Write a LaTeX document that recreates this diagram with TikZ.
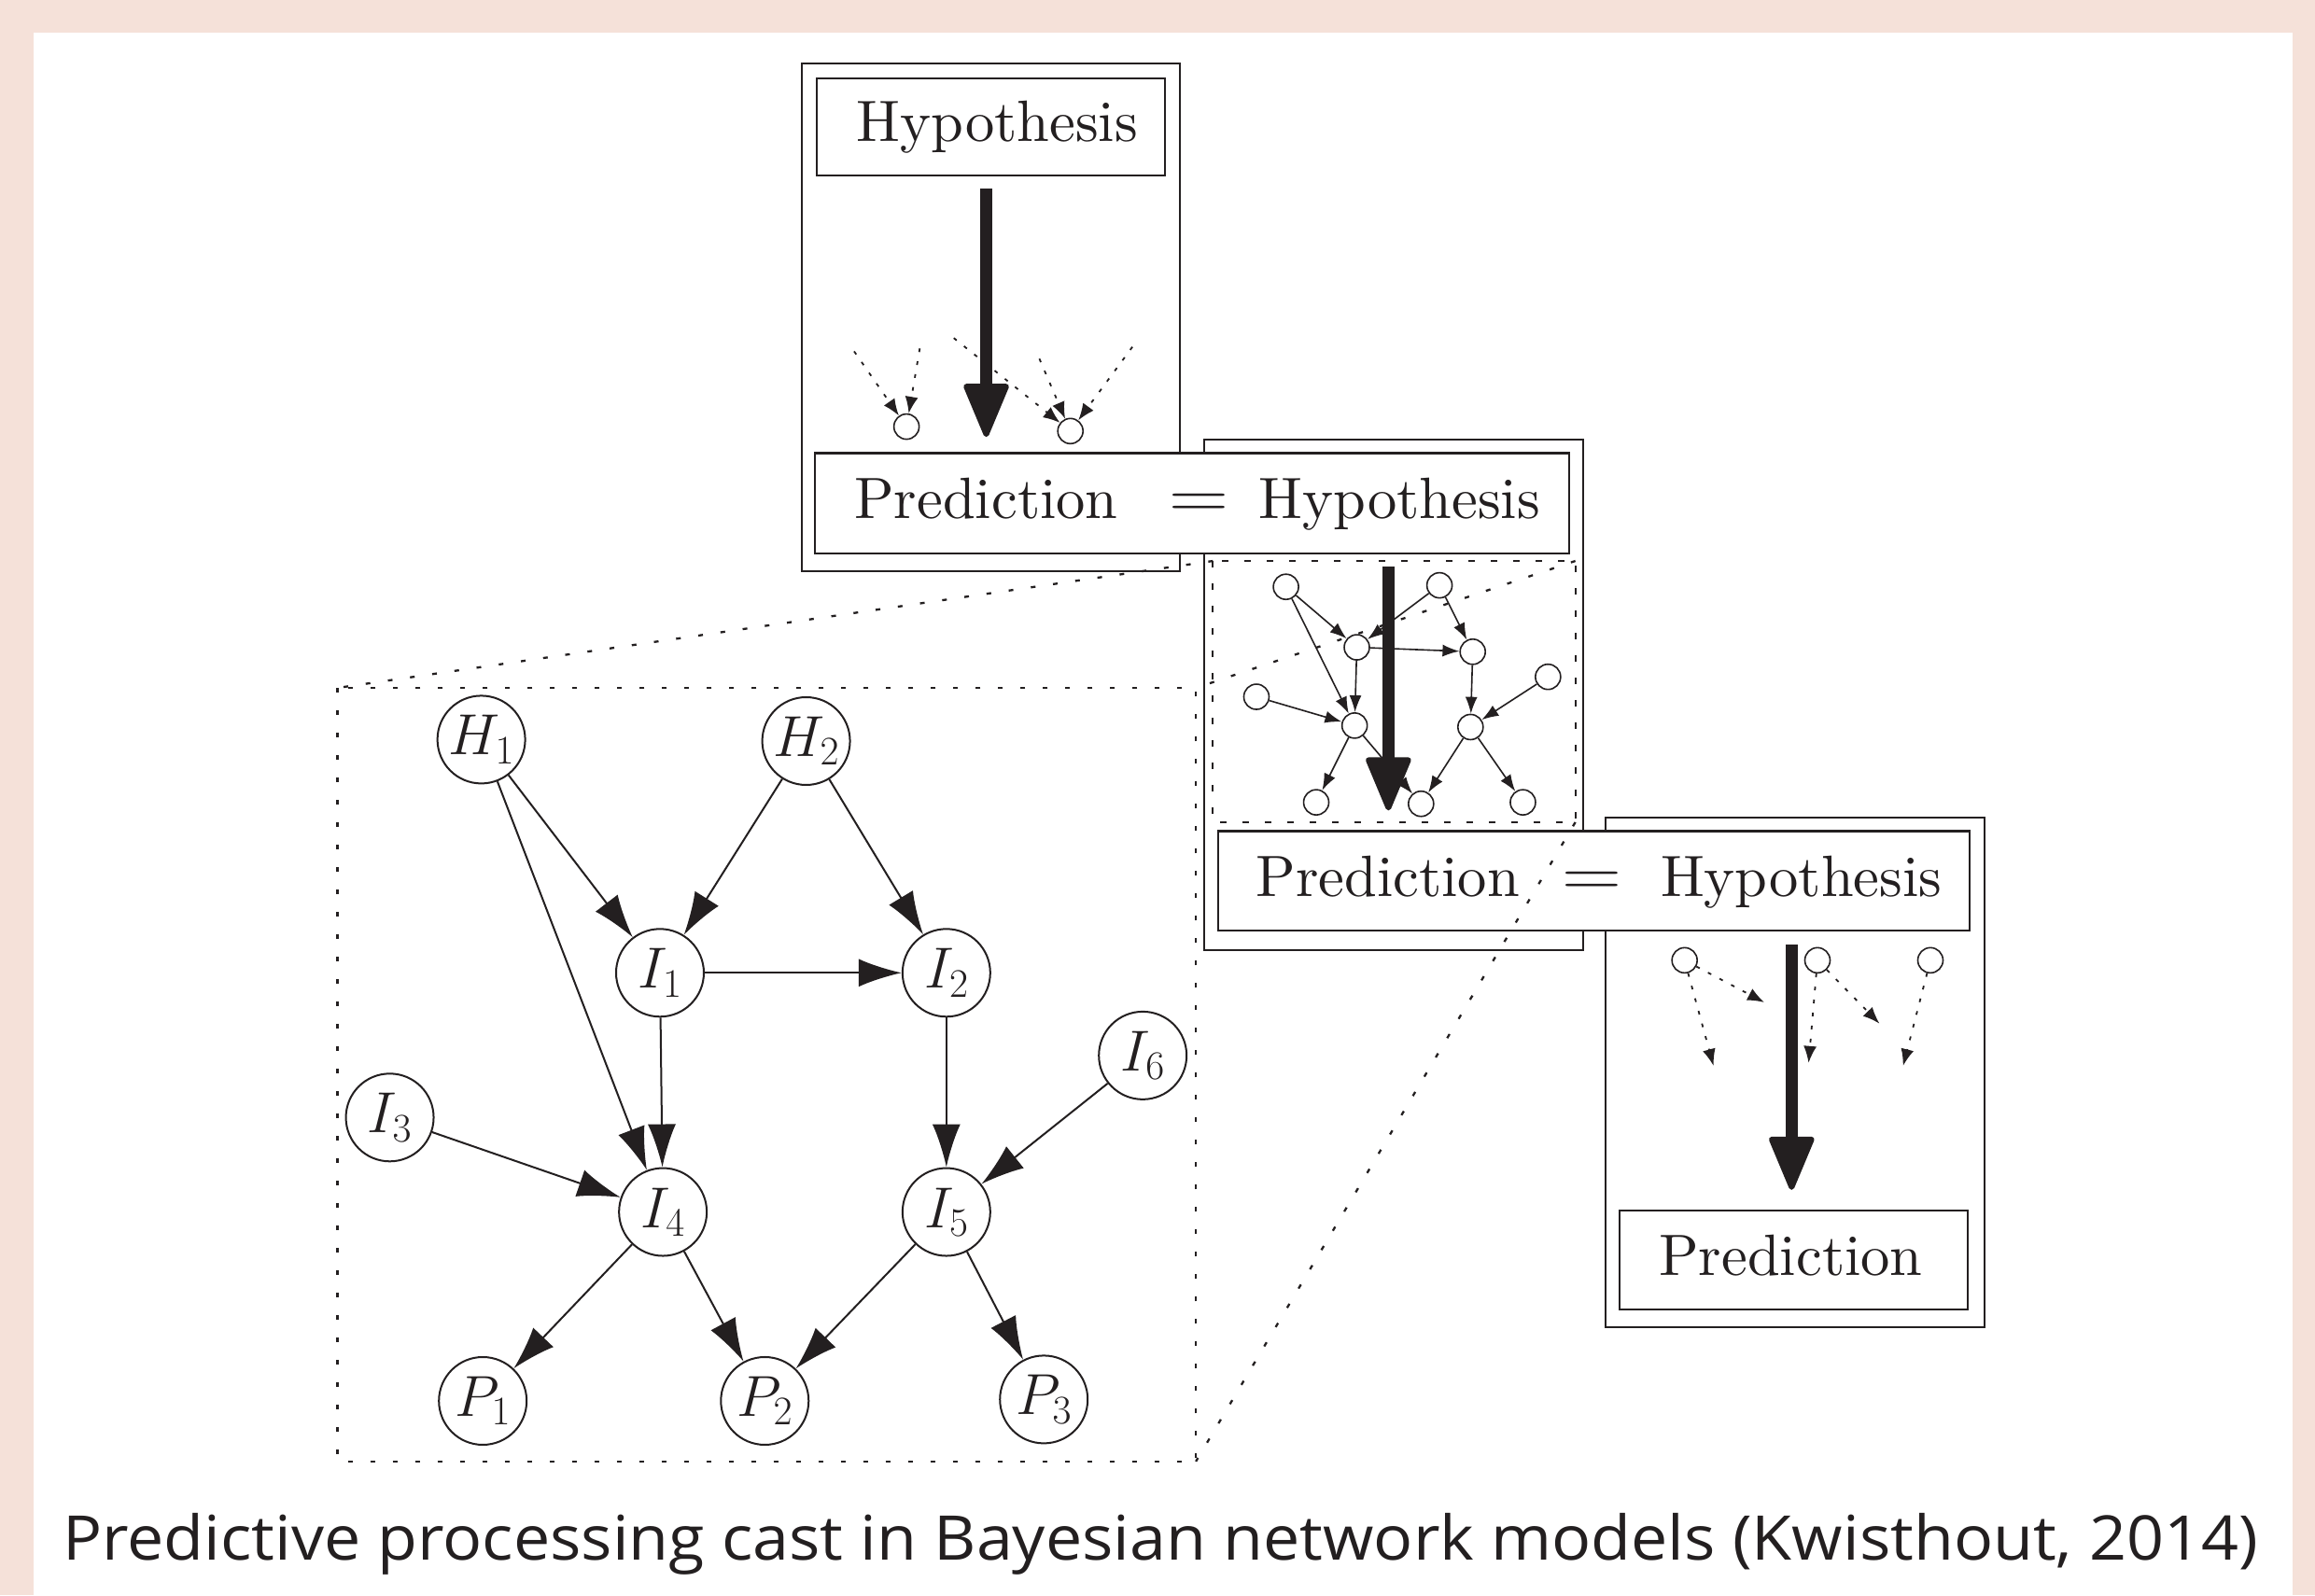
\RequirePackage{fix-cm}
\documentclass[tikz,border=0pt]{standalone}
\usepackage{fontspec}
\usepackage{graphicx}
\usetikzlibrary{arrows.meta}
\newfontfamily\lmten{lmroman10-regular}[Extension=.otf]
\newfontfamily\capfont{Open Sans}
\definecolor{bgpink}{RGB}{245,225,217}
\definecolor{ink}{RGB}{35,31,32}
\begin{document}
\begin{tikzpicture}[x=1.5816pt,y=-1.5816pt,
  every node/.style={text=ink},
  rbox/.style={draw=ink,line width=2.2pt,inner sep=0pt,outer sep=0pt,rectangle},
  wbox/.style={rbox,fill=white},
  bnode/.style={circle,draw=ink,line width=2pt,minimum size=94pt,inner sep=0pt,fill=white,font=\fontsize{62}{70}\selectfont},
  bedge/.style={draw=ink,line width=2pt,-{Latex[length=46pt,width=30pt]}},
  mnode/.style={circle,draw=ink,line width=1.6pt,minimum size=27pt,inner sep=0pt,fill=white},
  medge/.style={draw=ink,line width=1.6pt,-{Latex[length=18pt,width=13pt]}},
  darrow/.style={draw=ink,line width=1.8pt,dash pattern=on 4pt off 10pt,-{Latex[length=18pt,width=14pt]}},
  bigarrow/.style={draw=ink,line width=12.7pt,-{Triangle[length=62pt,width=50pt,round,line width=6pt]}},
  dotframe/.style={draw=ink,line width=2.3pt,dash pattern=on 5pt off 19pt},
  dashframe/.style={draw=ink,line width=1.8pt,dash pattern=on 7pt off 17pt},
  lbl/.style={anchor=base,inner sep=0pt,font=\fontsize{62.5}{75}\lmten},
  eqs/.style={anchor=base,inner sep=0pt,font=\fontsize{62.5}{75}\selectfont},
]
% background
\fill[bgpink] (0,0) rectangle (1568,1080.55);
\fill[white] (22.8,22.1) rectangle (1553,1080.55);
\path[use as bounding box] (0,0) rectangle (1568,1080.55);

% big network frame
\node[rbox,draw=none,minimum width=919.7pt,minimum height=828.8pt] (big) at (519.25,728) {};
\draw[dotframe] (big.north west) rectangle (big.south east);

% big network
\node[bnode] (H1) at (326,501) {$H_1$};
\node[bnode] (H2) at (546,502) {$H_2$};
\node[bnode] (I1) at (447,659) {$I_1$};
\node[bnode] (I2) at (641,659) {$I_2$};
\node[bnode] (I3) at (264,757) {$I_3$};
\node[bnode] (I6) at (774,715) {$I_6$};
\node[bnode] (I4) at (449,821) {$I_4$};
\node[bnode] (I5) at (641,821) {$I_5$};
\node[bnode] (P1) at (327,949) {$P_1$};
\node[bnode] (P2) at (518,949) {$P_2$};
\node[bnode] (P3) at (707,948) {$P_3$};
\foreach \a/\b in {H1/I1,H1/I4,H2/I1,H2/I2,I1/I2,I1/I4,I2/I5,I3/I4,I6/I5,I4/P1,I4/P2,I5/P2,I5/P3}
  \draw[bedge] (\a) -- (\b);

% outer boxes
\node[rbox,minimum width=404.9pt,minimum height=544.1pt] (outA) at (671,215) {};
\node[rbox,minimum width=406pt,minimum height=546.4pt] (outB) at (943.95,470.75) {};
\node[rbox,minimum width=405.7pt,minimum height=545.7pt] (outC) at (1215.75,726.5) {};

% hypothesis box (first) and prediction box (last)
\node[wbox,minimum width=373.3pt,minimum height=104.4pt] (hypA) at (671,86) {};
\node[lbl] (hypAt) at (675.5,95.5) {Hypothesis};
\node[wbox,minimum width=373.3pt,minimum height=106pt] (preC) at (1215,853.5) {};
\node[lbl] (preCt) at (1213,864) {Prediction};

% mini network frame
\node[rbox,draw=none,minimum width=388.3pt,minimum height=279.9pt] (mini) at (944.25,468.5) {};
\draw[dashframe] (mini.north west) rectangle (mini.south east);

% mini network
\node[mnode] (mH1) at (871,397.5) {};
\node[mnode] (mH2) at (975,396.5) {};
\node[mnode] (mI1) at (919,438.5) {};
\node[mnode] (mI2) at (997.5,441.5) {};
\node[mnode] (mI3) at (851,472) {};
\node[mnode] (mI6) at (1048.5,458.5) {};
\node[mnode] (mI4) at (917.5,491.5) {};
\node[mnode] (mI5) at (996,492.5) {};
\node[mnode] (mP1) at (891.5,543.5) {};
\node[mnode] (mP2) at (962.5,544.5) {};
\node[mnode] (mP3) at (1031.5,543.5) {};
\foreach \a/\b in {H1/I1,H1/I4,H2/I1,H2/I2,I1/I2,I1/I4,I2/I5,I3/I4,I6/I5,I4/P1,I4/P2,I5/P2,I5/P3}
  \draw[medge] (m\a) -- (m\b);

% prediction = hypothesis boxes
\node[wbox,minimum width=808.2pt,minimum height=107.5pt] (pehA) at (807.5,341) {};
\node[lbl] (pehAp) at (668,351) {Prediction};
\node[eqs] (pehAe) at (812,351) {\scalebox{1.42}[1.18]{$=$}};
\node[lbl] (pehAh) at (948,351) {Hypothesis};
\node[wbox,minimum width=805pt,minimum height=106.8pt] (pehB) at (1079.5,596.75) {};
\node[lbl] (pehBp) at (940,607) {Prediction};
\node[eqs] (pehBe) at (1078.5,607) {\scalebox{1.42}[1.18]{$=$}};
\node[lbl] (pehBh) at (1220,607) {Hypothesis};

% small circles and dotted arrows, first box
\node[mnode] (c1a) at (614,289) {};
\node[mnode] (c1b) at (725,292) {};
\coordinate (s1) at (578.5,238);
\coordinate (s2) at (623,236);
\coordinate (s3) at (646,229);
\coordinate (s4) at (704,243);
\coordinate (s5) at (767,235);
\draw[darrow] (s1) -- (c1a);
\draw[darrow] (s2) -- (c1a);
\draw[darrow] (s3) -- (c1b);
\draw[darrow] (s4) -- (c1b);
\draw[darrow] (s5) -- (c1b);

% small circles and dotted arrows, last box
\node[mnode] (c3a) at (1141,650.5) {};
\node[mnode] (c3b) at (1231,650.5) {};
\node[mnode] (c3c) at (1307.5,650.5) {};
\coordinate (e1) at (1160.6,722);
\coordinate (e2) at (1195,679);
\coordinate (e3) at (1225,720);
\coordinate (e4) at (1273,693.4);
\coordinate (e5) at (1289,722);
\draw[darrow] (c3a) -- (e1);
\draw[darrow] (c3a) -- (e2);
\draw[darrow] (c3b) -- (e3);
\draw[darrow] (c3b) -- (e4);
\draw[darrow] (c3c) -- (e5);

% thick arrows
\coordinate (t1s) at (668,128);
\coordinate (t1e) at (668,296);
\coordinate (t2s) at (940.4,384);
\coordinate (t2e) at (940.4,549);
\coordinate (t3s) at (1213.5,640);
\coordinate (t3e) at (1213.5,806);
\draw[bigarrow] (t1s) -- (t1e);
\draw[bigarrow] (t2s) -- (t2e);
\draw[bigarrow] (t3s) -- (t3e);

% zoom connectors
\draw[dotframe] (mini.north west) -- (big.north west);
\draw[dotframe] (mini.north east) -- (big.north east);
\draw[dotframe] (mini.south east) -- (big.south east);

% caption
\node[anchor=base,inner sep=0pt,font=\fontsize{66}{78}\capfont] (cap) at (786,1057) {\scalebox{1.06}[1]{Predictive processing cast in Bayesian network models (Kwisthout, 2014)}};
\end{tikzpicture}
\end{document}
